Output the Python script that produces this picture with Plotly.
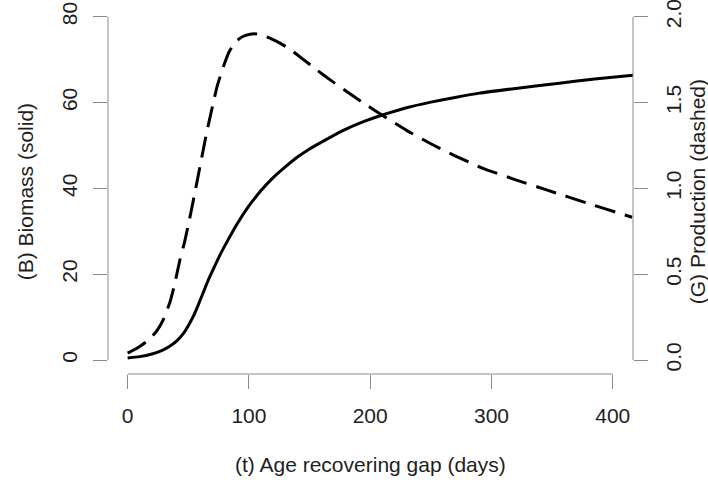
import plotly.graph_objects as go

# ---- data ----
t_biomass = [0, 10, 20, 28, 35, 41, 46, 50, 54, 58, 62, 66, 71, 76, 82, 90, 100, 110, 120, 130, 140, 150, 160, 167, 180, 195, 210, 230, 250, 270, 290, 320, 356, 385, 417]
biomass = [0.5, 0.8, 1.4, 2.2, 3.3, 4.6, 6.2, 8.0, 10.1, 12.7, 15.5, 18.3, 21.4, 24.4, 27.6, 31.6, 35.9, 39.5, 42.5, 45.0, 47.3, 49.2, 50.8, 51.9, 53.8, 55.6, 57.1, 58.8, 60.1, 61.2, 62.2, 63.3, 64.5, 65.5, 66.4]

t_prod = [0, 8, 18, 24, 29, 35, 39, 43, 47, 51, 55, 60, 65, 70, 74, 79, 84, 90, 95, 100, 106, 112, 119, 126, 134, 145, 156, 167, 180, 195, 210, 230, 250, 270, 293, 320, 346, 380, 410, 416]
production = [0.04, 0.07, 0.12, 0.17, 0.23, 0.34, 0.45, 0.58, 0.69, 0.82, 0.96, 1.14, 1.32, 1.48, 1.60, 1.71, 1.80, 1.86, 1.885, 1.897, 1.90, 1.89, 1.87, 1.845, 1.81, 1.75, 1.69, 1.632, 1.567, 1.495, 1.426, 1.338, 1.26, 1.19, 1.117, 1.05, 0.99, 0.912, 0.845, 0.832]

x_ticks = [0, 100, 200, 300, 400]
y_ticks = [0, 20, 40, 60, 80]
y2_ticks = [0.0, 0.5, 1.0, 1.5, 2.0]

x_title = "(t) Age recovering gap (days)"
y_title = "(B) Biomass (solid)"
y2_title = "(G) Production (dashed)"

FONT = "Liberation Sans, Arial, Helvetica, sans-serif"
TXT = "#1e1e1e"
AX = "#8a8a8a"
FS = 21

fig = go.Figure()
fig.add_trace(go.Scatter(x=t_biomass, y=biomass, mode="lines", line=dict(color="black", width=3, shape="spline", smoothing=0.5),
                         yaxis="y", showlegend=False, hoverinfo="skip"))
fig.add_trace(go.Scatter(x=t_prod, y=production, mode="lines", line=dict(color="black", width=3, dash="21px,10px", shape="spline", smoothing=0.5),
                         yaxis="y2", showlegend=False, hoverinfo="skip"))

common = dict(showgrid=False, zeroline=False, showline=False, ticks="outside", ticklen=14, tickwidth=1,
              tickcolor=AX, tickfont=dict(family=FONT, size=FS, color=TXT), ticklabeloverflow="allow",
              automargin=False)

fig.update_layout(
    width=708, height=482,
    margin=dict(l=108, r=75, t=3, b=108, autoexpand=False),
    paper_bgcolor="white", plot_bgcolor="white",
    xaxis=dict(range=[-16.2, 416.7], tickvals=x_ticks, ticktext=[str(v) for v in x_ticks],
               ticklabelstandoff=9, **common),
    yaxis=dict(range=[-3.25, 83.2], tickvals=y_ticks, ticktext=[str(v) for v in y_ticks],
               tickangle=-90, ticklabelstandoff=8, **common),
    yaxis2=dict(range=[-3.25 / 40, 83.2 / 40], tickvals=y2_ticks, ticktext=[f"{v:.1f}" for v in y2_ticks],
                overlaying="y", side="right", anchor="x", tickangle=-90, ticklabelstandoff=8, **common),
    shapes=[
        dict(type="line", xref="x", yref="paper", x0=x_ticks[0], x1=x_ticks[-1], y0=0, y1=0, line=dict(color=AX, width=1)),
        dict(type="line", xref="paper", yref="y", x0=0, x1=0, y0=y_ticks[0], y1=y_ticks[-1], line=dict(color=AX, width=1)),
        dict(type="line", xref="paper", yref="y2", x0=1, x1=1, y0=y2_ticks[0], y1=y2_ticks[-1], line=dict(color=AX, width=1)),
    ],
    annotations=[
        dict(text=x_title, xref="paper", yref="paper", x=0.5, y=-0.245, showarrow=False, xanchor="center", yanchor="middle",
             font=dict(family=FONT, size=FS, color=TXT)),
        dict(text=y_title, xref="paper", yref="paper", x=-0.158, y=0.49, showarrow=False, textangle=-90, xanchor="center", yanchor="middle",
             font=dict(family=FONT, size=FS, color=TXT)),
        dict(text=y2_title, xref="paper", yref="paper", x=1.122, y=0.49, showarrow=False, textangle=-90, xanchor="center", yanchor="middle",
             font=dict(family=FONT, size=FS, color=TXT)),
    ],
)

fig.write_html("out.html", config={"displayModeBar": False},
               post_script="document.body.style.margin='0';document.body.style.padding='0';")
